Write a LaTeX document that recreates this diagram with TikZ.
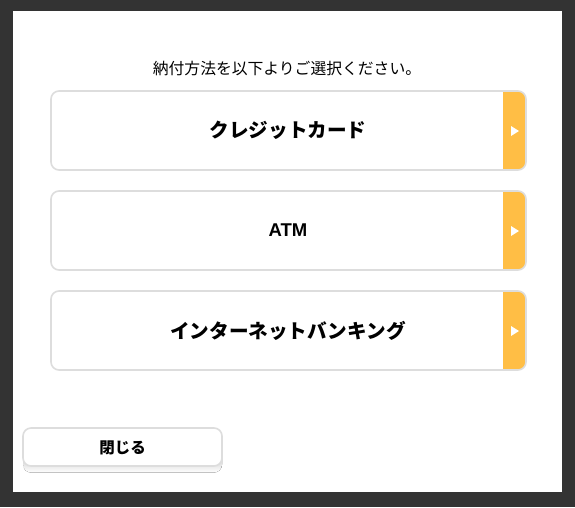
\documentclass[tikz,border=0pt]{standalone}
\usepackage{fontspec}
\setmainfont{Liberation Sans}
\newfontfamily\jpfont{Noto Sans CJK JP}
\usetikzlibrary{positioning}
\definecolor{backdrop}{HTML}{333333}
\definecolor{edge}{HTML}{DDDDDD}
\definecolor{strip}{HTML}{FFBE45}
\definecolor{shade}{HTML}{C2C2C2}

\begin{document}
\begin{tikzpicture}[x=1pt,y=-1pt,
  prompt/.style={font=\jpfont\fontsize{15.8}{18}\selectfont, inner sep=0pt},
  choice/.style={font=\bfseries\fontsize{19.6}{22}\selectfont, inner sep=0pt},
  frame/.style={draw=edge, line width=1.6pt, rounded corners=8pt}]
  \useasboundingbox (0,0) rectangle (575,507);
  \fill[backdrop] (0,0) rectangle (575,507);
  \fill[white] (13,11) rectangle (562,492);
  \node[prompt] (ask) at (287,68) {納付方法を以下よりご選択ください。};
  \foreach \i/\lbl in {0/{\jpfont クレジットカード}, 1/{\fontsize{18.5}{22}\selectfont ATM}, 2/{\jpfont インターネットバンキング}} {
    \pgfmathsetmacro\ty{91+100*\i}
    \begin{scope}
      \clip[rounded corners=8pt] (51,\ty) rectangle (526,\ty+79);
      \fill[white] (51,\ty) rectangle (526,\ty+79);
      \fill[strip] (503,\ty) rectangle (526,\ty+79);
    \end{scope}
    \draw[frame] (51,\ty) rectangle (526,\ty+79);
    \fill[white] (511,\ty+35) -- (511,\ty+45) -- (519,\ty+40) -- cycle;
    \node[choice] (opt\i) at (288,\ty+39.5) {\lbl};
  }
  \fill[shade, rounded corners=8pt] (23,432) rectangle (222,472.5);
  \filldraw[frame, fill=white] (23,428) rectangle (222,466);
  \node[choice, font=\jpfont\bfseries\fontsize{15.5}{18}\selectfont] (close) at (122.5,448) {閉じる};
\end{tikzpicture}
\end{document}
